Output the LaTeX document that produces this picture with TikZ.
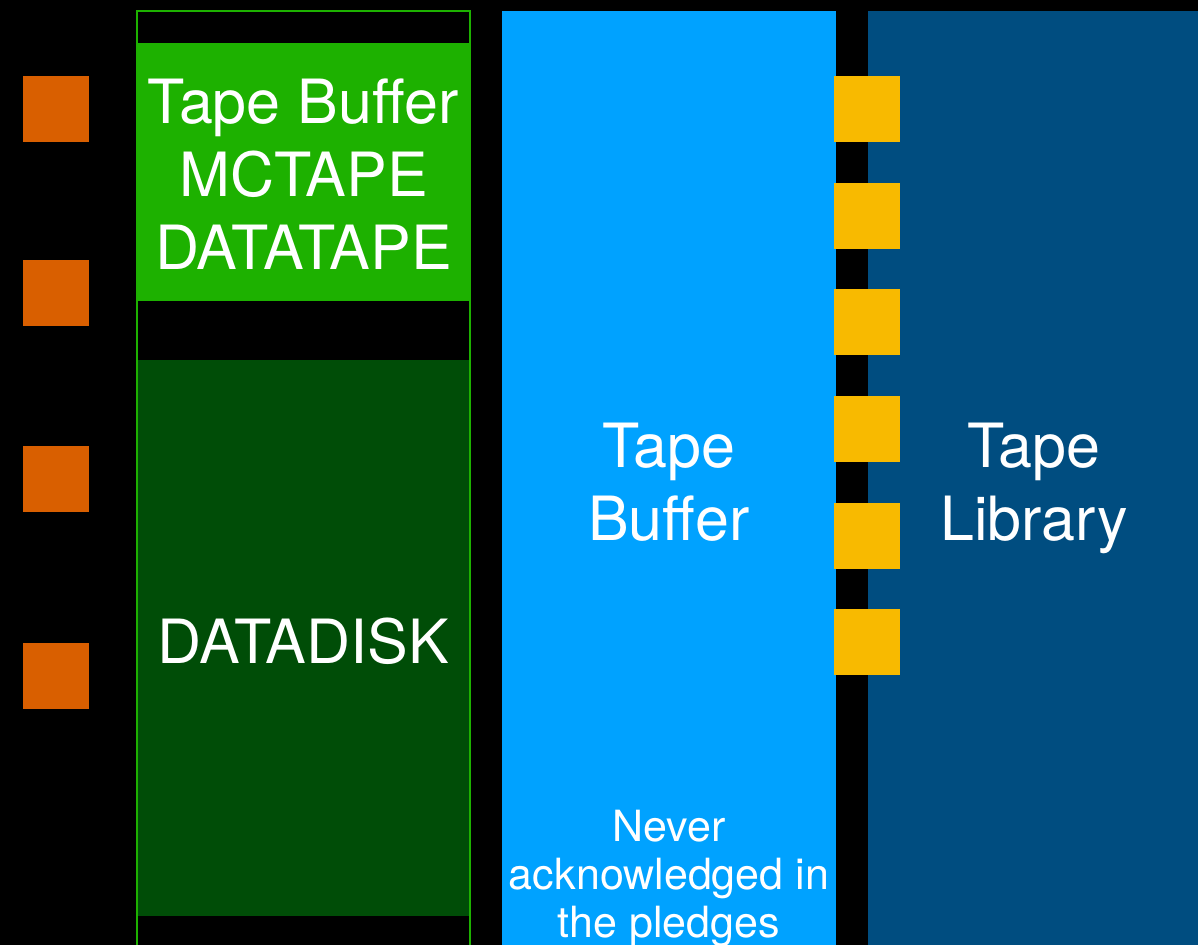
\documentclass[tikz,border=0pt]{standalone}
\usepackage{fontspec}
\setmainfont{TeX Gyre Heros}
\definecolor{brightgreen}{HTML}{1DB100}
\definecolor{darkgreen}{HTML}{004D07}
\definecolor{lightblue}{HTML}{00A2FF}
\definecolor{darkblue}{HTML}{004D80}
\definecolor{portorange}{HTML}{D95F00}
\definecolor{slotyellow}{HTML}{F8BA00}
\tikzset{
  block/.style={rectangle, inner sep=0pt, text=white, align=center,
    font=\fontsize{30.5}{36.5}\selectfont},
  port/.style={rectangle, inner sep=0pt, minimum size=33pt}
}
\begin{document}
\begin{tikzpicture}[x=0.5pt, y=-0.5pt]
    % Hintergrund
    \fill[black] (0,0) rectangle (1198,945);
    \useasboundingbox (0,0) rectangle (1198,945);

    % Orange Ports links
    \foreach \y [count=\i] in {109, 293, 479, 676} {
        \node[port, fill=portorange] (op\i) at (56,\y) {};
    }

    % Disk-Bereich mit gruenem Rahmen
    \draw[brightgreen, line width=1pt] (137,945) -- (137,11) -- (470,11) -- (470,945);
    \node[block, fill=brightgreen, minimum width=166.5pt, minimum height=129pt]
        (tapebuf) at (303.5,172) {};
    \node[block] (tapebuftext) at (303.5,174) {Tape Buffer\\MCTAPE\\DATATAPE};
    \node[block, fill=darkgreen, minimum width=165.5pt, minimum height=278pt]
        (datadisk) at (303.5,638) {};
    \node[block] (datadisktext) at (303.5,641) {DATADISK};

    % Tape Buffer und Tape Library
    \node[block, fill=lightblue, minimum width=167pt, minimum height=467pt]
        (buffer) at (669,478) {};
    \node[block] (buffertext) at (669,493) {Tape\\Buffer\strut};
    \node[text=white, align=center, font=\fontsize{21.5}{24}\selectfont]
        (note) at (669,879) {Never\\acknowledged in\\the pledges};
    \node[block, fill=darkblue, minimum width=165pt, minimum height=467pt]
        (library) at (1033,478) {};
    \node[block] (librarytext) at (1034,493) {Tape\\Library\strut};

    % Gelbe Laufwerke
    \foreach \y [count=\i] in {109, 216, 322, 429, 536, 642} {
        \node[port, fill=slotyellow] (drive\i) at (867,\y) {};
    }
\end{tikzpicture}
\end{document}
